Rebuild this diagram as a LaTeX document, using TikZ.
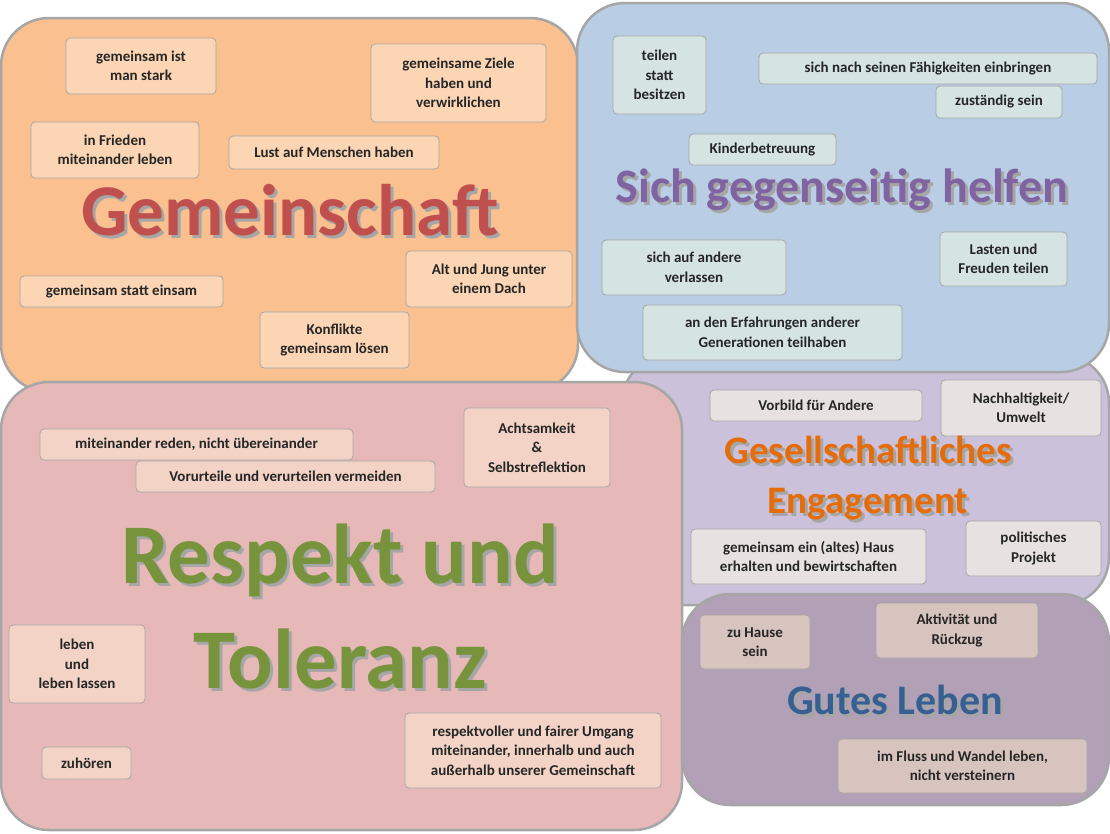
\documentclass[tikz,border=0pt]{standalone}
\usepackage{fontspec}
\setmainfont{Carlito}
\definecolor{bordg}{HTML}{A6A6A6}
\definecolor{orA}{HTML}{FAC090}\definecolor{orB}{HTML}{FCD5B5}
\definecolor{blA}{HTML}{B9CDE5}\definecolor{blB}{HTML}{D5E3E2}
\definecolor{puA}{HTML}{CCC1DA}\definecolor{puB}{HTML}{E8E1E2}
\definecolor{piA}{HTML}{E6B9B8}\definecolor{piB}{HTML}{F2D3C6}
\definecolor{guA}{HTML}{B1A0B6}\definecolor{guB}{HTML}{D8C4BE}
\definecolor{tGe}{HTML}{C0504D}\definecolor{tSi}{HTML}{8064A2}
\definecolor{tEn}{HTML}{E46C0A}\definecolor{tRe}{HTML}{77933C}
\definecolor{tGu}{HTML}{376092}
\tikzset{
 region/.style={draw=bordg,line width=2.5pt,rounded corners=48pt},
 sbox/.style={draw=bordg,line width=0.8pt,rounded corners=4pt,inner sep=1pt,align=center,
   font=\fontsize{15}{19.5}\selectfont\bfseries,text=black!85},
 title/.style={align=center,font=\bfseries},
}
\newcommand\bx[7]{\node[sbox,fill=#2,minimum width={(#5-#3)*1pt},minimum height={(#6-#4)*1pt}]
  (#1) at ({(#3+#5)/2},{-(#4+#6)/2}) {#7};}
\newcommand\ttl[5]{\node[title,text=black!35,font=#4] (s#1) at ({#2+3},{-#3-3}) {#5};
  \node[title,text=#1,font=#4] (t#1) at (#2,-#3) {#5};}
\begin{document}
\begin{tikzpicture}[x=1pt,y=1pt]
\useasboundingbox (0,0) rectangle (1110,-833);
\fill[white] (0,0) rectangle (1110,-833);
% regions
\draw[region,fill=orA] (1,-18) rectangle (578,-392);
\draw[region,fill=puA] (622,-355) rectangle (1109,-605);
\draw[region,fill=blA] (577,-3) rectangle (1109,-372);
\draw[region,fill=piA] (1,-382) rectangle (682,-830);
\draw[region,fill=guA] (682,-594) rectangle (1109,-805);
% orange
\bx{o1}{orB}{66}{38}{216}{94}{gemeinsam ist\\man stark}
\bx{o2}{orB}{371}{44}{546}{122}{gemeinsame Ziele\\haben und\\verwirklichen}
\bx{o3}{orB}{31}{122}{199}{178}{in Frieden\\miteinander leben}
\bx{o4}{orB}{229}{136}{439}{169}{Lust auf Menschen haben}
\bx{o5}{orB}{20}{276}{223}{307}{gemeinsam statt einsam}
\bx{o6}{orB}{406}{251}{572}{307}{Alt und Jung unter\\einem Dach}
\bx{o7}{orB}{260}{312}{409}{368}{Konflikte\\gemeinsam lösen}
\ttl{tGe}{290}{210}{\fontsize{73}{80}\selectfont\bfseries}{Gemeinschaft}
% blue
\bx{b1}{blB}{613}{36}{706}{114}{teilen\\statt\\besitzen}
\bx{b2}{blB}{759}{53}{1097}{84}{sich nach seinen Fähigkeiten einbringen}
\bx{b3}{blB}{936}{86}{1062}{118}{zuständig sein}
\bx{b4}{blB}{689}{134}{836}{165}{Kinderbetreuung}
\bx{b5}{blB}{602}{240}{786}{295}{sich auf andere\\verlassen}
\bx{b6}{blB}{940}{232}{1067}{286}{Lasten und\\Freuden teilen}
\bx{b7}{blB}{643}{305}{902}{360}{an den Erfahrungen anderer\\Generationen teilhaben}
\ttl{tSi}{842}{190}{\fontsize{48}{54}\selectfont\bfseries}{Sich gegenseitig helfen}
% purple
\bx{p1}{puB}{710}{390}{922}{421}{Vorbild für Andere}
\bx{p2}{puB}{941}{380}{1101}{436}{Nachhaltigkeit/\\Umwelt}
\bx{p3}{puB}{691}{529}{926}{584}{gemeinsam ein (altes) Haus\\erhalten und bewirtschaften}
\bx{p4}{puB}{966}{521}{1101}{576}{politisches\\Projekt}
\ttl{tEn}{868}{478}{\fontsize{39}{50}\selectfont\bfseries}{Gesellschaftliches\\Engagement}
% pink
\bx{r1}{piB}{40}{429}{353}{460}{miteinander reden, nicht übereinander}
\bx{r2}{piB}{136}{461}{435}{492}{Vorurteile und verurteilen vermeiden}
\bx{r3}{piB}{464}{408}{610}{487}{Achtsamkeit\\\&\\Selbstreflektion}
\bx{r4}{piB}{9}{625}{145}{703}{leben\\und\\leben lassen}
\bx{r5}{piB}{405}{713}{661}{788}{respektvoller und fairer Umgang\\miteinander, innerhalb und auch\\außerhalb unserer Gemeinschaft}
\bx{r6}{piB}{42}{747}{131}{779}{zuhören}
\ttl{tRe}{340}{606}{\fontsize{85}{105}\selectfont\bfseries}{Respekt und\\Toleranz}
% gutes leben
\bx{g1}{guB}{700}{615}{810}{669}{zu Hause\\sein}
\bx{g2}{guB}{876}{603}{1038}{658}{Aktivität und\\Rückzug}
\bx{g3}{guB}{838}{739}{1087}{793}{im Fluss und Wandel leben,\\nicht versteinern}
\ttl{tGu}{895}{700}{\fontsize{42}{48}\selectfont\bfseries}{Gutes Leben}
\end{tikzpicture}
\end{document}
